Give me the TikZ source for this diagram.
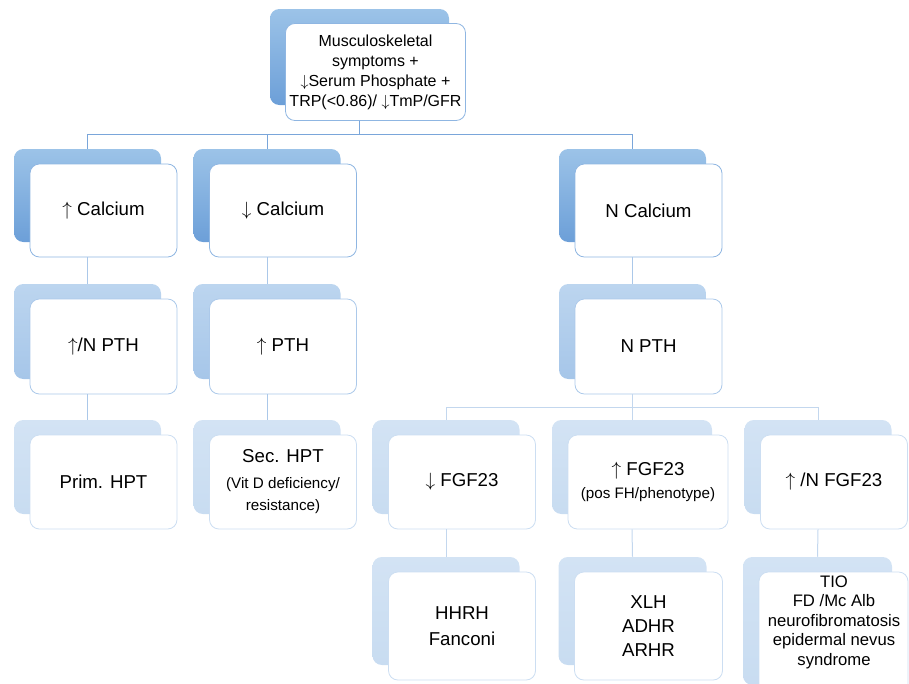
\documentclass[tikz,border=0pt]{standalone}
\usepackage{fontspec}
\setmainfont{Liberation Sans}

\definecolor{shadeDarkTop}{HTML}{9CC3E8}
\definecolor{shadeDarkBot}{HTML}{6C9FD8}
\definecolor{shadeMidTop}{HTML}{BCD5EF}
\definecolor{shadeMidBot}{HTML}{A6C6E9}
\definecolor{shadeLightTop}{HTML}{D3E3F4}
\definecolor{shadeLightBot}{HTML}{C8DCF1}
\definecolor{edgeDark}{HTML}{8FB6E2}
\definecolor{edgeMid}{HTML}{ACC9EA}
\definecolor{edgeLight}{HTML}{CCDEF2}
\definecolor{linkDark}{HTML}{7AA6DA}
\definecolor{linkMid}{HTML}{ABC8E9}
\definecolor{linkLight}{HTML}{C3D7EE}

\begin{document}
\begin{tikzpicture}[
            x=0.75pt, y=-0.75pt,
            backdrop/.style={rectangle, rounded corners=7pt, minimum width=110.25pt, minimum height=70.5pt, inner sep=0pt},
            backdark/.style={backdrop, top color=shadeDarkTop, bottom color=shadeDarkBot},
            backmid/.style={backdrop, top color=shadeMidTop, bottom color=shadeMidBot},
            backlight/.style={backdrop, top color=shadeLightTop, bottom color=shadeLightBot},
            card/.style={rectangle, rounded corners=7pt, fill=white, draw=edgeDark, line width=0.6pt, minimum width=110.25pt, minimum height=70.5pt, inner sep=2pt, align=center, font=\fontsize{14}{17}\selectfont},
            link/.style={line width=0.75pt}
        ]

        \clip (0,0) rectangle (909,683);

        % ==========================================
        % TOP: presenting findings
        % ==========================================
        \node[backdark, minimum width=134.25pt, minimum height=72pt] (symptomsS) at (359.5,57) {};
        \node[card, minimum width=135pt, minimum height=72.75pt, inner sep=1pt, font=\fontsize{12}{15}\selectfont] (symptoms) at ([shift={(16,15)}]symptomsS) {Musculoskeletal\\symptoms +\\$\downarrow$Serum Phosphate +\\TRP(<0.86)/ $\downarrow$TmP/GFR};

        % ==========================================
        % LEVEL 1: calcium
        % ==========================================
        \node[backdark, minimum height=69.75pt] (caupS) at (87.5,195.5) {};
        \node[card, minimum height=69.75pt] (caup) at ([shift={(16,15)}]caupS) {$\uparrow$ Calcium};
        \node[backdark, minimum height=69.75pt] (cadnS) at (267,195.5) {};
        \node[card, minimum height=69.75pt] (cadn) at ([shift={(16,15)}]cadnS) {$\downarrow$ Calcium};
        \node[backdark, minimum height=69.75pt] (canS) at (632.5,195.5) {};
        \node[card, minimum height=69.75pt] (can) at ([shift={(16,15)}]canS) {N Calcium};

        % ==========================================
        % LEVEL 2: PTH
        % ==========================================
        \node[backmid, minimum height=71.25pt] (pthupS) at (87.5,331.5) {};
        \node[card, draw=edgeMid, minimum height=71.25pt] (pthup) at ([shift={(16,15)}]pthupS) {$\uparrow$/N PTH};
        \node[backmid, minimum height=71.25pt] (pthhiS) at (267,331.5) {};
        \node[card, draw=edgeMid, minimum height=71.25pt] (pthhi) at ([shift={(16,15)}]pthhiS) {$\uparrow$ PTH};
        \node[backmid, minimum height=71.25pt] (pthnS) at (632.5,331.5) {};
        \node[card, draw=edgeMid, minimum height=71.25pt] (pthn) at ([shift={(16,15)}]pthnS) {N PTH};

        % ==========================================
        % LEVEL 3: HPT and FGF23
        % ==========================================
        \node[backlight] (primS) at (87.5,467) {};
        \node[card, draw=edgeLight] (prim) at ([shift={(16,15)}]primS) {Prim. HPT};
        \node[backlight] (secS) at (267,467) {};
        \node[card, draw=edgeLight] (sec) at ([shift={(16,15)}]secS) {Sec. HPT\\[2pt]{\fontsize{11.4}{14}\selectfont (Vit D deficiency/}\\{\fontsize{11.4}{14}\selectfont resistance)}};

        \node[backlight] (fgfdnS) at (446,467) {};
        \node[card, draw=edgeLight] (fgfdn) at ([shift={(16,15)}]fgfdnS) {$\downarrow$ FGF23};
        \node[backlight, minimum width=120pt] (fgfupS) at (632,467) {};
        \node[card, draw=edgeLight, minimum width=120pt] (fgfup) at ([shift={(16,15)}]fgfupS) {$\uparrow$ FGF23\\{\fontsize{11.4}{14}\selectfont (pos FH/phenotype)}};
        \node[backlight] (fgfnS) at (818,467) {};
        \node[card, draw=edgeLight] (fgfn) at ([shift={(16,15)}]fgfnS) {$\uparrow$ /N FGF23};

        % ==========================================
        % LEVEL 4: disorders
        % ==========================================
        \node[backlight, minimum height=81pt] (hhrhS) at (446,611) {};
        \node[card, draw=edgeLight, minimum height=81pt, font=\fontsize{14}{19}\selectfont] (hhrh) at ([shift={(16,15)}]hhrhS) {HHRH\\Fanconi};
        \node[backlight, minimum width=111pt, minimum height=81pt] (xlhS) at (632.5,611) {};
        \node[card, draw=edgeLight, minimum width=111pt, minimum height=81pt, font=\fontsize{14}{18}\selectfont] (xlh) at ([shift={(16,15)}]xlhS) {XLH\\ADHR\\ARHR};
        \node[backlight, minimum width=111.75pt, minimum height=96pt] (tioS) at (817.5,621) {};
        \node[card, draw=edgeLight, minimum width=111.75pt, minimum height=96pt] (tio) at ([shift={(16,15)}]tioS) {};
        \node[align=center, font=\fontsize{12.5}{14.6}\selectfont] (tiotext) at (834,622) {TIO\\FD /Mc Alb\\neurofibromatosis\\epidermal nevus\\syndrome};

        % Connections
        \draw[link, linkDark] (symptomsS.south |- symptoms.south) -- ++(0,14) -| (caupS.north);
        \draw[link, linkDark] (symptomsS.south |- symptoms.south) -- ++(0,14) -| (cadnS.north);
        \draw[link, linkDark] (symptomsS.south |- symptoms.south) -- ++(0,14) -| (canS.north);

        \draw[link, linkMid] (caupS.south |- caup.south) -- (pthupS.north);
        \draw[link, linkMid] (cadnS.south |- cadn.south) -- (pthhiS.north);
        \draw[link, linkMid] (canS.south |- can.south) -- (pthnS.north);

        \draw[link, linkMid] (pthupS.south |- pthup.south) -- (primS.north);
        \draw[link, linkMid] (pthhiS.south |- pthhi.south) -- (secS.north);
        \draw[link, linkLight] (pthnS.south |- pthn.south) -- ++(0,13) -| (fgfdnS.north);
        \draw[link, linkLight] (pthnS.south |- pthn.south) -- ++(0,13) -| (fgfupS.north);
        \draw[link, linkLight] (pthnS.south |- pthn.south) -- ++(0,13) -| (fgfnS.north);

        \draw[link, linkLight] (fgfdnS.south |- fgfdn.south) -- (hhrhS.north);
        \draw[link, linkLight] (fgfupS.south |- fgfup.south) -- (xlhS.north);
        \draw[link, linkLight] (fgfnS.south |- fgfn.south) -- (tioS.north);

        \end{tikzpicture}
\end{document}
